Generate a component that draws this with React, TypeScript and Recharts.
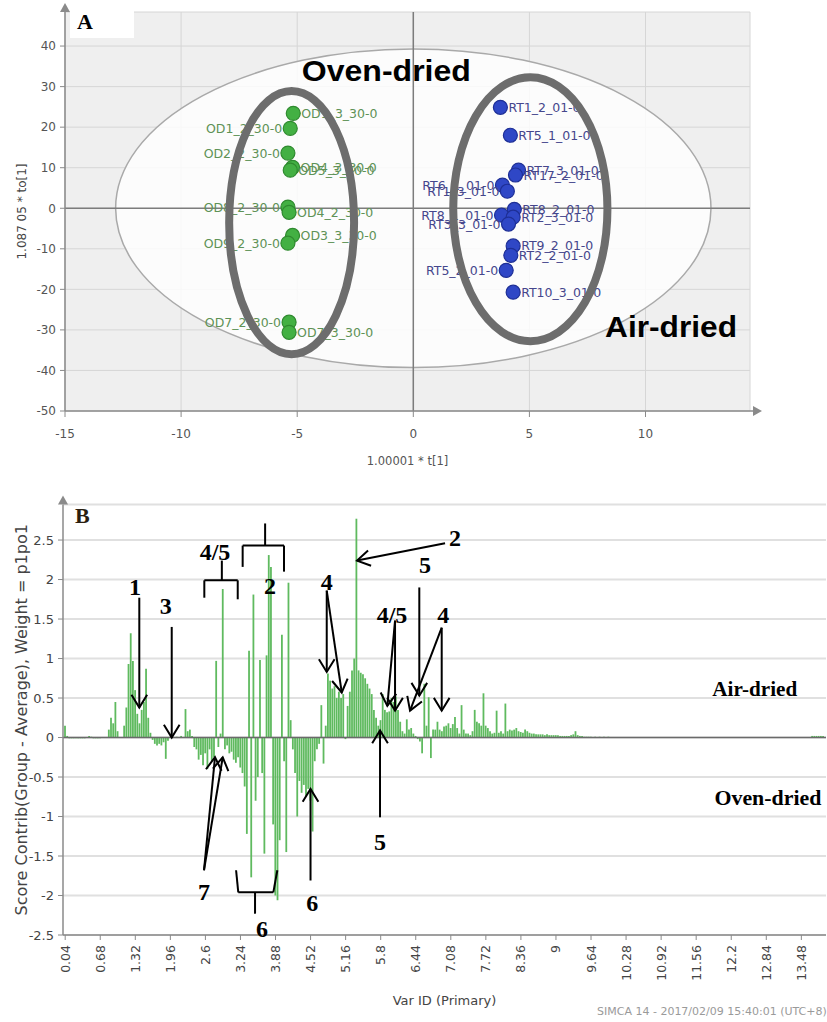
import React from 'react'
import {
  ScatterChart,
  Scatter,
  BarChart,
  Bar,
  XAxis,
  YAxis,
  CartesianGrid,
  ReferenceArea,
  ReferenceLine,
  ReferenceDot,
} from 'recharts'

// ---------- panel A: OPLS-DA scores ----------
const odNames = ['OD1_3_30-0', 'OD1_2_30-0', 'OD2_2_30-0', 'OD4_3_30-0', 'OD5_3_30-0', 'OD8_2_30-0', 'OD4_2_30-0', 'OD3_3_30-0', 'OD9_2_30-0', 'OD7_2_30-0', 'OD7_3_30-0']
const odT = [-5.17, -5.3, -5.4, -5.2, -5.3, -5.4, -5.35, -5.2, -5.4, -5.35, -5.35]
const odTo = [23.4, 19.7, 13.6, 10.1, 9.4, 0.3, -1.0, -6.7, -8.6, -28.1, -30.6]
const odLabelLeft = [false, true, true, false, false, true, false, false, true, true, false]

const rtNames = ['RT1_2_01-0', 'RT5_1_01-0', 'RT7_3_01-0', 'RT17_2_01-0', 'RT6_1_01-0', 'RT1_3_01-0', 'RT8_2_01-0', 'RT8_1_01-0', 'RT2_3_01-0', 'RT3_3_01-0', 'RT9_2_01-0', 'RT2_2_01-0', 'RT5_2_01-0', 'RT10_3_01-0']
const rtT = [3.75, 4.18, 4.53, 4.4, 3.84, 4.05, 4.35, 3.8, 4.3, 4.1, 4.3, 4.2, 4.0, 4.3]
const rtTo = [24.9, 18.0, 9.4, 8.2, 5.7, 4.2, -0.3, -1.7, -2.2, -3.9, -9.3, -11.6, -15.3, -20.7]
const rtLabelLeft = [false, false, false, false, true, true, false, true, false, true, false, false, true, false]

const aXTicks = [-15, -10, -5, 0, 5, 10]
const aYTicks = [-50, -40, -30, -20, -10, 0, 10, 20, 30, 40]

const odData = odNames.map((name, i) => ({ name, t: odT[i], to: odTo[i], left: odLabelLeft[i] }))
const rtData = rtNames.map((name, i) => ({ name, t: rtT[i], to: rtTo[i], left: rtLabelLeft[i] }))

// ---------- panel B: score contribution per bin ----------
const varIds = [
  0.04, 0.08, 0.12, 0.16, 0.2, 0.24, 0.28, 0.32, 0.36, 0.4, 0.48, 0.52, 0.56, 0.6, 0.64, 0.68,
  0.84, 0.88, 0.92, 0.96, 1.0, 1.12, 1.16, 1.2, 1.24, 1.28, 1.32, 1.36, 1.4, 1.44, 1.48, 1.52,
  1.56, 1.6, 1.64, 1.68, 1.72, 1.76, 1.8, 1.84, 1.88, 1.92, 1.96, 2.0, 2.08, 2.16, 2.24, 2.28,
  2.32, 2.36, 2.4, 2.44, 2.48, 2.52, 2.56, 2.6, 2.64, 2.68, 2.72, 2.76, 2.8, 2.84, 2.88, 2.92,
  2.96, 3.0, 3.04, 3.08, 3.12, 3.16, 3.2, 3.24, 3.28, 3.32, 3.36, 3.4, 3.44, 3.48, 3.52, 3.56,
  3.6, 3.64, 3.68, 3.72, 3.76, 3.8, 3.84, 3.88, 3.92, 3.96, 4.0, 4.04, 4.08, 4.12, 4.16, 4.2,
  4.24, 4.28, 4.32, 4.36, 4.4, 4.44, 4.48, 4.52, 4.56, 4.6, 4.64, 4.68, 4.72, 4.76, 4.8, 4.84,
  4.88, 4.92, 4.96, 5.0, 5.04, 5.08, 5.12, 5.16, 5.2, 5.24, 5.28, 5.32, 5.36, 5.4, 5.44, 5.48,
  5.52, 5.56, 5.6, 5.64, 5.68, 5.72, 5.76, 5.8, 5.84, 5.88, 5.92, 5.96, 6.0, 6.04, 6.08, 6.12,
  6.16, 6.2, 6.24, 6.28, 6.32, 6.36, 6.4, 6.44, 6.48, 6.52, 6.56, 6.6, 6.64, 6.68, 6.72, 6.76,
  6.8, 6.84, 6.88, 6.92, 6.96, 7.0, 7.04, 7.08, 7.12, 7.16, 7.2, 7.24, 7.28, 7.32, 7.36, 7.4,
  7.44, 7.48, 7.52, 7.56, 7.6, 7.64, 7.68, 7.72, 7.76, 7.8, 7.84, 7.88, 7.92, 7.96, 8.0, 8.04,
  8.08, 8.12, 8.16, 8.2, 8.24, 8.28, 8.32, 8.36, 8.4, 8.44, 8.48, 8.52, 8.56, 8.6, 8.64, 8.68,
  8.72, 8.76, 8.8, 8.84, 8.88, 8.92, 8.96, 9.0, 9.04, 9.08, 9.12, 9.16, 9.2, 9.24, 9.28, 9.32,
  9.36, 9.4, 9.44, 9.48, 9.52, 9.56, 9.6, 9.64, 9.72, 9.8, 9.88, 9.96,
  13.68, 13.72, 13.76, 13.8, 13.84, 13.88,
]
const scoreContrib = [
  0.15, 0.02, -0.01, -0.01, -0.01, -0.01, -0.01, -0.01, -0.01, -0.01, 0.02, 0.01, -0.01, -0.01, -0.01, -0.01,
  0.1, 0.25, 0.18, 0.45, 0.08, 0.15, 0.38, 0.93, 1.32, 0.97, 0.6, 0.3, 0.18, 0.35, 0.45, 0.87,
  0.25, 0.06, -0.03, -0.08, -0.1, -0.08, -0.1, -0.06, -0.27, -0.04, 0.01, 0.01, 0.01, 0.02, 0.36, 0.08,
  0.1, 0.02, -0.12, -0.15, -0.28, -0.22, -0.35, -0.2, -0.4, -0.15, -0.3, -0.25, 0.97, -0.12, 0.05, 1.88,
  -0.15, -0.1, -0.2, -0.18, -0.28, -0.32, -0.25, -0.38, -0.45, -0.62, -1.22, 1.1, -1.77, 1.81, -0.8, -0.5,
  0.98, -0.45, -1.47, 1.04, 2.31, 2.16, -1.1, -2.0, -2.06, -1.3, 1.3, -0.3, -1.45, 1.96, 0.22, -0.15,
  -0.45, -1.0, -0.55, -0.7, -0.6, -0.75, -0.65, -0.8, -1.19, -0.3, -0.15, -0.08, 0.41, -0.33, 0.15, 0.81,
  0.72, 0.62, 0.65, 0.5, 0.58, 0.5, 0.55, -0.02, 0.4, 0.58, 0.85, 1.0, 2.77, 0.85, 0.82, 0.8,
  0.75, 0.68, 0.62, 0.55, 0.35, 0.25, 0.15, 0.22, 0.55, 0.35, 0.32, 0.33, 0.5, 0.45, 0.52, 0.35,
  0.2, 0.08, 0.05, 0.23, 0.1, 0.12, 0.05, 0.02, -0.02, -0.05, -0.2, 0.68, 0.15, 0.51, -0.26, 0.1,
  0.1, 0.2, 0.1, 0.08, 0.14, 0.15, 0.18, 0.12, 0.17, 0.26, 0.12, 0.05, 0.41, 0.1, 0.05, 0.05,
  0.03, 0.08, 0.35, 0.2, 0.18, 0.15, 0.56, 0.15, 0.12, 0.08, 0.05, 0.06, 0.34, 0.06, 0.08, 0.05,
  0.43, 0.08, 0.1, 0.09, 0.1, 0.12, 0.08, 0.07, 0.06, 0.1, 0.08, 0.06, 0.05, 0.05, 0.04, 0.04,
  0.04, 0.04, 0.03, 0.04, 0.03, 0.03, 0.03, 0.03, 0.03, 0.02, 0.02, 0.02, 0.02, 0.02, 0.03, 0.04,
  0.08, 0.03, 0.02, 0.02, 0.01, 0.01, 0.01, 0.01, 0.01, 0.01, 0.01, 0.01,
  0.02, 0.02, 0.02, 0.02, 0.02, 0.02,
]
const bXTicks = [0.04, 0.68, 1.32, 1.96, 2.6, 3.24, 3.88, 4.52, 5.16, 5.8, 6.44, 7.08, 7.72, 8.36, 9, 9.64, 10.28, 10.92, 11.56, 12.2, 12.84, 13.48]
const bYTicks = [-2.5, -2, -1.5, -1, -0.5, 0, 0.5, 1, 1.5, 2, 2.5]

const contribData = varIds.map((id, i) => ({ id, c: scoreContrib[i] }))

// annotations drawn on panel B (ppm, contribution)
const bLabels = [
  { t: '1', x: 1.315, y: 1.9 },
  { t: '3', x: 1.875, y: 1.67 },
  { t: '4/5', x: 2.775, y: 2.35 },
  { t: '2', x: 3.78, y: 1.92 },
  { t: '4', x: 4.815, y: 1.97 },
  { t: '4/5', x: 6.007, y: 1.55 },
  { t: '5', x: 6.61, y: 2.18 },
  { t: '4', x: 6.943, y: 1.55 },
  { t: '2', x: 7.157, y: 2.53 },
  { t: '7', x: 2.574, y: -1.96 },
  { t: '6', x: 3.633, y: -2.42 },
  { t: '6', x: 4.552, y: -2.1 },
  { t: '5', x: 5.788, y: -1.32 },
]
const bArrows = [
  [1.393, 1.77, 1.393, 0.38],
  [1.985, 1.4, 1.985, 0.0],
  [4.815, 1.86, 4.815, 0.83],
  [4.815, 1.86, 5.089, 0.57],
  [6.062, 1.48, 5.921, 0.4],
  [6.062, 1.48, 6.062, 0.34],
  [6.505, 1.9, 6.505, 0.53],
  [6.914, 1.39, 6.336, 0.34],
  [6.914, 1.39, 6.914, 0.34],
  [6.975, 2.46, 5.368, 2.24],
  [5.788, -1.01, 5.788, 0.09],
  [2.574, -1.68, 2.775, -0.25],
  [2.574, -1.68, 2.916, -0.25],
  [4.519, -1.81, 4.519, -0.65],
]
const bBrackets = [
  [2.9, 2.24, 2.9, 1.99],
  [2.58, 1.99, 3.19, 1.99],
  [2.58, 1.99, 2.58, 1.77],
  [3.19, 1.99, 3.19, 1.75],
  [3.69, 2.71, 3.69, 2.43],
  [3.28, 2.43, 4.035, 2.43],
  [3.28, 2.43, 3.28, 2.16],
  [4.035, 2.43, 4.035, 2.1],
  [3.16, -1.68, 3.2, -1.96],
  [3.2, -1.96, 3.84, -1.96],
  [3.506, -1.96, 3.506, -2.23],
  [3.84, -1.96, 3.913, -1.68],
]

const FONT = '"DejaVu Sans", Verdana, sans-serif'
const SERIF = '"Liberation Serif", "Times New Roman", serif'

const ellipseShape = (fill: string, fillOpacity: number, stroke: string, sw: number) => (p: any) => (
  <ellipse
    cx={p.x + p.width / 2}
    cy={p.y + p.height / 2}
    rx={Math.abs(p.width) / 2}
    ry={Math.abs(p.height) / 2}
    fill={fill}
    fillOpacity={fillOpacity}
    stroke={stroke}
    strokeWidth={sw}
  />
)

const pointShape = (fill: string, stroke: string, textColor: string) => (p: any) => {
  const { cx, cy, payload } = p
  const left = payload.left
  return (
    <g>
      <circle cx={cx} cy={cy} r={7} fill={fill} stroke={stroke} strokeWidth={1.2} />
      <text
        x={left ? cx - 8 : cx + 8}
        y={cy}
        textAnchor={left ? 'end' : 'start'}
        dominantBaseline="central"
        fontSize={12.5}
        fontFamily={FONT}
        fill={textColor}
      >
        {payload.name}
      </text>
    </g>
  )
}

const textShape = (t: string, size: number, family: string, width?: number) => (p: any) => (
  <text
    x={p.cx}
    y={p.cy}
    textAnchor="middle"
    dominantBaseline="central"
    fontSize={size}
    fontWeight={700}
    fontFamily={family}
    fill="#000"
    textLength={width}
    lengthAdjust={width ? 'spacingAndGlyphs' : undefined}
  >
    {t}
  </text>
)

const arrowShape = (p: any) => {
  const { x1, y1, x2, y2 } = p
  const ang = Math.atan2(y2 - y1, x2 - x1)
  const L = 15
  const s = 0.55
  const lx = x2 - L * Math.cos(ang - s)
  const ly = y2 - L * Math.sin(ang - s)
  const rx = x2 - L * Math.cos(ang + s)
  const ry = y2 - L * Math.sin(ang + s)
  return (
    <g stroke="#000" strokeWidth={2} fill="none">
      <line x1={x1} y1={y1} x2={x2} y2={y2} />
      <polyline points={`${lx},${ly} ${x2},${y2} ${rx},${ry}`} />
    </g>
  )
}

const upArrowHead = (p: any) => (
  <path d={`M${p.cx - 5},${p.cy} L${p.cx},${p.cy - 9} L${p.cx + 5},${p.cy} Z`} fill="#8a8a8a" />
)
const rightArrowHead = (p: any) => (
  <g>
    <line x1={p.cx} y1={p.cy} x2={p.cx + 4} y2={p.cy} stroke="#8a8a8a" strokeWidth={1.5} />
    <path d={`M${p.cx + 3},${p.cy - 5} L${p.cx + 12},${p.cy} L${p.cx + 3},${p.cy + 5} Z`} fill="#8a8a8a" />
  </g>
)

const VerticalTick = (p: any) => {
  const { x, y, payload } = p
  return (
    <text
      x={x}
      y={y}
      transform={`rotate(-90 ${x} ${y})`}
      textAnchor="end"
      dominantBaseline="central"
      fontSize={12.5}
      fontFamily={FONT}
      fill="#444"
    >
      {payload.value}
    </text>
  )
}

function ScoresPanel() {
  return (
    <ScatterChart width={827} height={480} margin={{ top: 12, right: 77, bottom: 11, left: 10 }}>
      <CartesianGrid stroke="#d6d6d6" fill="#efefef" />
      <ReferenceArea
        x1={-12.82}
        x2={12.82}
        y1={-39.3}
        y2={39.3}
        shape={ellipseShape('#ffffff', 0.82, '#a9a9a9', 1.5)}
        ifOverflow="visible"
      />
      <ReferenceLine x={0} stroke="#7c7c7c" strokeWidth={1.5} />
      <ReferenceLine y={0} stroke="#7c7c7c" strokeWidth={1.5} />
      <XAxis
        type="number"
        dataKey="t"
        domain={[-15, 14.5]}
        ticks={aXTicks}
        interval={0}
        allowDataOverflow
        height={58}
        tickSize={6}
        tickMargin={12}
        tick={{ fontSize: 12, fill: '#555', fontFamily: FONT }}
        axisLine={{ stroke: '#8a8a8a', strokeWidth: 1.5 }}
        tickLine={{ stroke: '#8a8a8a' }}
        label={{ value: '1.00001 * t[1]', position: 'insideBottom', offset: 4, fontSize: 11.5, fill: '#555', fontFamily: FONT }}
      />
      <YAxis
        type="number"
        dataKey="to"
        domain={[-50, 48.4]}
        ticks={aYTicks}
        interval={0}
        allowDataOverflow
        width={55}
        tickSize={5}
        tickMargin={4}
        tick={{ fontSize: 12, fill: '#555', fontFamily: FONT }}
        axisLine={{ stroke: '#8a8a8a', strokeWidth: 1.5 }}
        tickLine={{ stroke: '#8a8a8a' }}
        label={{
          value: '1.087 05 * to[1]',
          position: 'insideLeft',
          angle: -90,
          offset: 12,
          fontSize: 12,
          fill: '#444',
          fontFamily: FONT,
          style: { textAnchor: 'middle' },
        }}
      />
      <Scatter data={odData} isAnimationActive={false} shape={pointShape('#43b043', '#2f8a2f', '#5e9256')} />
      <Scatter data={rtData} isAnimationActive={false} shape={pointShape('#2f47c6', '#1e2f96', '#45468c')} />
      <ReferenceArea
        x1={-7.93}
        x2={-2.55}
        y1={-36.0}
        y2={28.9}
        shape={ellipseShape('none', 0, '#6d6d6d', 8)}
        ifOverflow="visible"
        zIndex={800}
      />
      <ReferenceArea
        x1={1.72}
        x2={8.36}
        y1={-32.8}
        y2={32.3}
        shape={ellipseShape('none', 0, '#6d6d6d', 8)}
        ifOverflow="visible"
        zIndex={800}
      />
      <ReferenceDot x={-1.16} y={34.0} ifOverflow="visible" shape={textShape('Oven-dried', 30, '"Liberation Sans", Arial, sans-serif', 169)} zIndex={900} />
      <ReferenceDot x={11.1} y={-29.1} ifOverflow="visible" shape={textShape('Air-dried', 30, '"Liberation Sans", Arial, sans-serif', 132)} zIndex={900} />
      <ReferenceDot x={-15} y={48.4} ifOverflow="visible" shape={upArrowHead} />
      <ReferenceDot x={14.5} y={-50} ifOverflow="visible" shape={rightArrowHead} />
    </ScatterChart>
  )
}

function ContribPanel() {
  return (
    <BarChart data={contribData} width={827} height={542} margin={{ top: 24.5, right: 1, bottom: 15, left: 8 }}>
      <CartesianGrid vertical={false} stroke="#e0e0e0" strokeWidth={2} />
      <XAxis
        type="number"
        dataKey="id"
        domain={[0, 13.93]}
        ticks={bXTicks}
        interval={0}
        allowDataOverflow
        height={72}
        tickSize={5}
        tickMargin={5}
        tick={<VerticalTick />}
        axisLine={{ stroke: '#8a8a8a', strokeWidth: 1.5 }}
        tickLine={{ stroke: '#8a8a8a' }}
        label={{ value: 'Var ID (Primary)', position: 'insideBottom', offset: 2, fontSize: 13, fill: '#444', fontFamily: FONT }}
      />
      <YAxis
        type="number"
        domain={[-2.5, 2.95]}
        ticks={bYTicks}
        interval={0}
        allowDataOverflow
        width={55}
        tickSize={5}
        tickMargin={4}
        tick={{ fontSize: 13, fill: '#444', fontFamily: FONT }}
        axisLine={{ stroke: '#8a8a8a', strokeWidth: 1.5 }}
        tickLine={{ stroke: '#8a8a8a' }}
        label={{
          value: 'Score Contrib(Group - Average), Weight = p1po1',
          position: 'insideLeft',
          angle: -90,
          offset: 13,
          fontSize: 16,
          fill: '#444',
          fontFamily: FONT,
          style: { textAnchor: 'middle' },
        }}
      />
      <ReferenceLine y={0} stroke="#6a6a6a" strokeWidth={1.5} />
      <Bar dataKey="c" fill="#5fba5f" barSize={1.8} isAnimationActive={false} />
      {bBrackets.map((s, i) => (
        <ReferenceLine
          key={`br${i}`}
          segment={[{ x: s[0], y: s[1] }, { x: s[2], y: s[3] }]}
          stroke="#000"
          strokeWidth={2}
          ifOverflow="visible"
        />
      ))}
      {bArrows.map((s, i) => (
        <ReferenceLine
          key={`ar${i}`}
          segment={[{ x: s[0], y: s[1] }, { x: s[2], y: s[3] }]}
          shape={arrowShape}
          ifOverflow="visible"
        />
      ))}
      {bLabels.map((l, i) => (
        <ReferenceDot key={`lb${i}`} x={l.x} y={l.y} ifOverflow="visible" shape={textShape(l.t, 24, SERIF)} />
      ))}
      <ReferenceDot x={12.63} y={0.61} ifOverflow="visible" shape={textShape('Air-dried', 21, SERIF, 85)} />
      <ReferenceDot x={12.87} y={-0.76} ifOverflow="visible" shape={textShape('Oven-dried', 21, SERIF, 107)} />
      <ReferenceDot x={0} y={2.95} ifOverflow="visible" shape={upArrowHead} />
    </BarChart>
  )
}

export default function App() {
  return (
    <div
      style={{
        position: 'absolute',
        left: 0,
        top: 0,
        width: 827,
        height: 1022,
        overflow: 'hidden',
        background: '#fff',
        fontFamily: FONT,
      }}
    >
      <div style={{ position: 'absolute', left: 0, top: 0 }}>
        <ScoresPanel />
      </div>
      <div style={{ position: 'absolute', left: 0, top: 480 }}>
        <ContribPanel />
      </div>
      <div
        style={{
          position: 'absolute',
          left: 70,
          top: 5,
          width: 64,
          height: 33,
          background: '#fff',
          fontFamily: SERIF,
          fontWeight: 700,
          fontSize: 22,
          lineHeight: '33px',
          paddingLeft: 7,
          boxSizing: 'border-box',
        }}
      >
        A
      </div>
      <div
        style={{
          position: 'absolute',
          left: 75,
          top: 503,
          fontFamily: SERIF,
          fontWeight: 700,
          fontSize: 22,
          color: '#2a1e10',
        }}
      >
        B
      </div>
      <div
        style={{
          position: 'absolute',
          left: 597,
          top: 1005,
          fontSize: 11,
          color: '#9a9a9a',
          whiteSpace: 'nowrap',
        }}
      >
        SIMCA 14 - 2017/02/09 15:40:01 (UTC+8)
      </div>
    </div>
  )
}
